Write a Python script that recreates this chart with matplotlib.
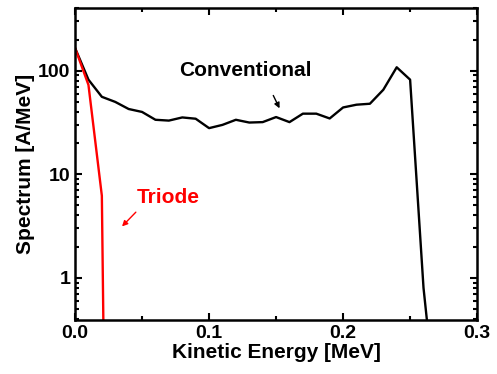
import matplotlib.pyplot as plt
import numpy as np
from matplotlib.ticker import LogLocator, MultipleLocator, FixedFormatter, FixedLocator

plt.rcParams['font.family'] = ['Liberation Sans', 'DejaVu Sans']
plt.rcParams['font.weight'] = 'bold'

# conventional spectrum
conv_energy = [0.0, 0.01, 0.02, 0.03, 0.04, 0.05, 0.06, 0.07, 0.08, 0.09,
               0.10, 0.11, 0.12, 0.13, 0.14, 0.15, 0.16, 0.17, 0.18, 0.19,
               0.20, 0.21, 0.22, 0.23, 0.24, 0.25, 0.26, 0.27]
conv_spectrum = [166, 82, 56, 50, 42.7, 40, 33.6, 33, 35.4, 34.4,
                 27.9, 30, 33.6, 31.6, 31.9, 35.7, 31.9, 38.5, 38.5, 34.6,
                 44.2, 47, 48, 65.5, 108, 82, 0.8, 0.047]

# triode spectrum
triode_energy = [0.0, 0.01, 0.02, 0.03]
triode_spectrum = [166, 73, 6.2, 1e-10]

y_ticks = [1, 10, 100]
y_tick_labels = ['1', '10', '100']
x_ticks = [0.0, 0.1, 0.2, 0.3]
x_tick_labels = ['0.0', '0.1', '0.2', '0.3']

fig = plt.figure(figsize=(4.97, 3.74), dpi=100)
ax = fig.add_axes([0.151, 0.144, 0.809, 0.835])

ax.plot(conv_energy, conv_spectrum, color='black', lw=1.7)
ax.plot(triode_energy, triode_spectrum, color='red', lw=1.7)

ax.set_yscale('log')
ax.set_xlim(0, 0.3)
ax.set_ylim(0.39, 405)

ax.xaxis.set_major_locator(FixedLocator(x_ticks))
ax.xaxis.set_major_formatter(FixedFormatter(x_tick_labels))
ax.xaxis.set_minor_locator(MultipleLocator(0.05))
ax.yaxis.set_major_locator(FixedLocator(y_ticks))
ax.yaxis.set_major_formatter(FixedFormatter(y_tick_labels))
ax.yaxis.set_minor_locator(LogLocator(base=10, subs=np.arange(2, 10)))
ax.yaxis.set_minor_formatter(FixedFormatter([]))

ax.tick_params(which='both', direction='in', top=True, right=True, width=1.5,
               labelsize=14)
ax.tick_params(which='major', length=5)
ax.tick_params(which='minor', length=3)
for lab in ax.get_xticklabels() + ax.get_yticklabels():
    lab.set_fontweight('heavy')
for s in ax.spines.values():
    s.set_linewidth(1.8)

ax.set_xlabel('Kinetic Energy [MeV]', fontsize=15, fontweight='bold', labelpad=1)
ax.set_ylabel('Spectrum [A/MeV]', fontsize=15, fontweight='bold', labelpad=2)

ax.text(0.127, 100, 'Conventional', fontsize=15, fontweight='bold',
        ha='center', va='center', color='black')
ax.annotate('', xy=(0.1535, 41), xytext=(0.147, 61),
            arrowprops=dict(arrowstyle='-|>', color='black', lw=1,
                            mutation_scale=8))

ax.text(0.0694, 6.0, 'Triode', fontsize=15, fontweight='bold',
        ha='center', va='center', color='red')
ax.annotate('', xy=(0.0336, 3.0), xytext=(0.0468, 4.5),
            arrowprops=dict(arrowstyle='-|>', color='red', lw=1,
                            mutation_scale=8))

fig.savefig('out.png', dpi=100)
